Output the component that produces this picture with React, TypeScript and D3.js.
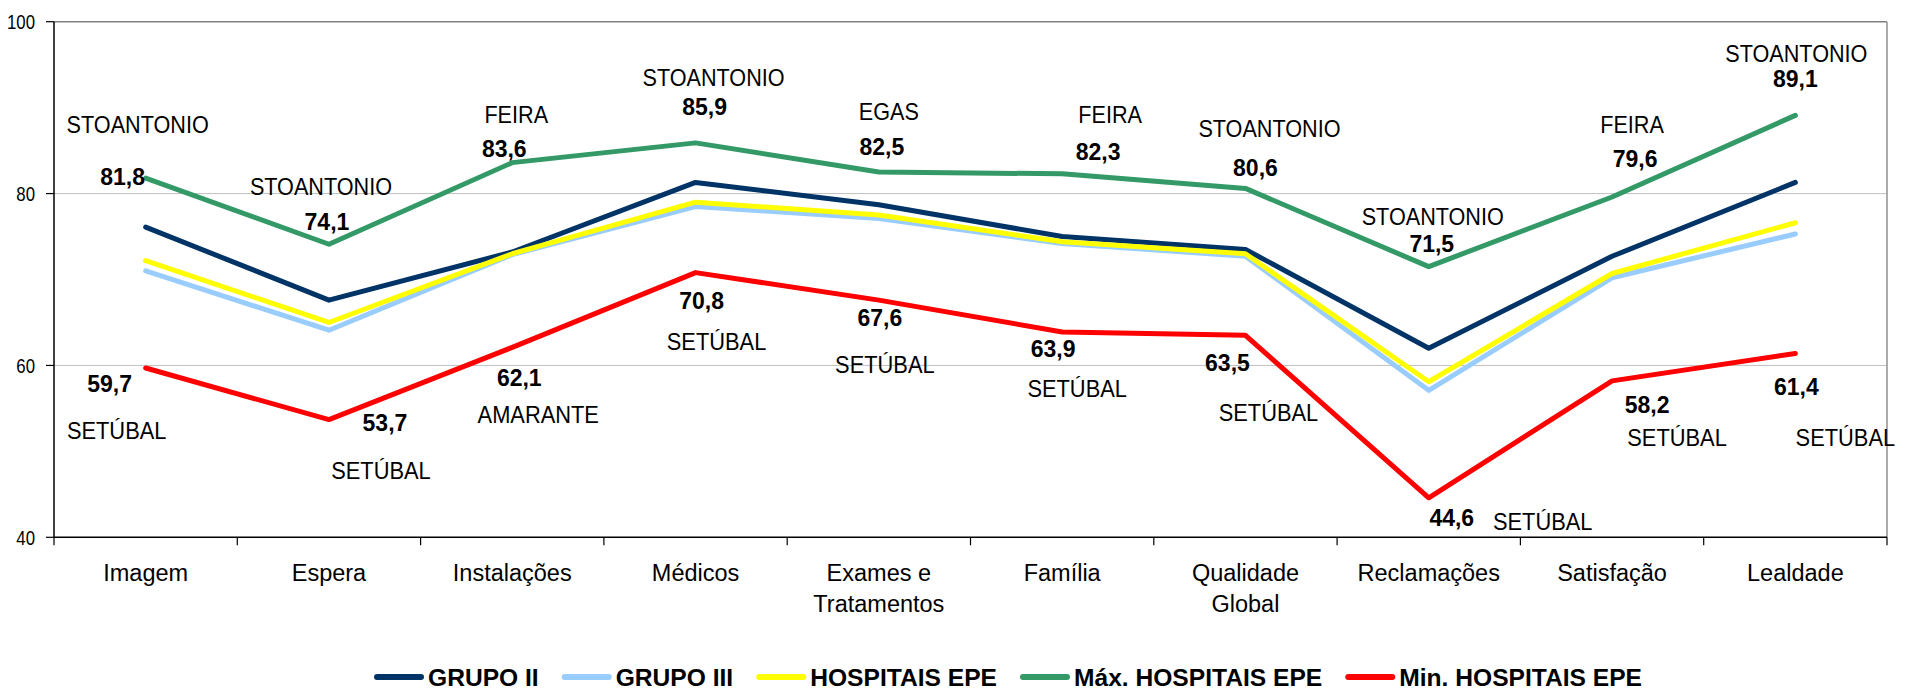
import * as d3 from "d3";

const W = 1905, H = 696;
const FONT = "'Liberation Sans', Arial, sans-serif";

const categories = ["Imagem", "Espera", "Instalações", "Médicos", "Exames e\nTratamentos", "Família", "Qualidade\nGlobal", "Reclamações", "Satisfação", "Lealdade"];

const grupoII = [76.1, 67.6, 73.2, 81.3, 78.7, 75.0, 73.5, 62.0, 72.7, 81.3];
const grupoIII = [71.0, 64.1, 72.9, 78.5, 77.1, 74.2, 72.7, 57.1, 70.2, 75.3];
const hospitaisEpe = [72.2, 65.0, 73.0, 79.0, 77.5, 74.4, 73.0, 58.1, 70.7, 76.6];
const maxEpe = [81.8, 74.1, 83.6, 85.9, 82.5, 82.3, 80.6, 71.5, 79.6, 89.1];
const minEpe = [59.7, 53.7, 62.1, 70.8, 67.6, 63.9, 63.5, 44.6, 58.2, 61.4];

const maxSites = ["STOANTONIO", "STOANTONIO", "FEIRA", "STOANTONIO", "EGAS", "FEIRA", "STOANTONIO", "STOANTONIO", "FEIRA", "STOANTONIO"];
const minSites = ["SETÚBAL", "SETÚBAL", "AMARANTE", "SETÚBAL", "SETÚBAL", "SETÚBAL", "SETÚBAL", "SETÚBAL", "SETÚBAL", "SETÚBAL"];

const yTicks = [40, 60, 80, 100];

const series = [
  { name: "GRUPO II", values: grupoII, color: "#003366" },
  { name: "GRUPO III", values: grupoIII, color: "#99ccff" },
  { name: "HOSPITAIS EPE", values: hospitaisEpe, color: "#ffff00" },
  { name: "Máx. HOSPITAIS EPE", values: maxEpe, color: "#339966" },
  { name: "Min. HOSPITAIS EPE", values: minEpe, color: "#ff0000" },
];

// label placement, offsets from the data point [dx, dy] (layout only)
const maxNameOff = [[-8, -45], [-8, -49], [4, -40], [18, -57], [10, -52], [48, -51], [24, -51], [4, -42], [20, -64], [1, -53]];
const maxValOff = [[-23, 7], [-2, -14], [-8, -6], [9, -28], [3, -17], [36, -14], [10, -12], [3, -15], [23, -30], [0, -28]];
const minValOff = [[-36, 24], [56, 11], [7, 39], [6, 36], [1, 26], [-9, 25], [-18, 36], [23, 28], [35, 32], [1, 42]];
const minNameOff = [[-29, 71], [52, 59], [26, 76], [21, 77], [6, 73], [15, 65], [23, 86], [114, 32], [65, 65], [50, 93]];

function T({ x, y, sx = 1, size, bold = false, anchor = "middle", children }: any) {
  return (
    <text transform={`translate(${x},${y}) scale(${sx},1)`} fontSize={size} fontWeight={bold ? 700 : 400}
      textAnchor={anchor} fontFamily={FONT} fill="#000">{children}</text>
  );
}

const fmt = (v: number) => d3.format(".1f")(v).replace(".", ",");

export default function App() {
  const left = 54, right = 1887, top = 21.7, bottom = 537.3;
  const x = d3.scaleBand<string>().domain(categories).range([left, right]);
  const cx = (i: number) => (x(categories[i]) as number) + x.bandwidth() / 2;
  const y = d3.scaleLinear().domain([40, 100]).range([bottom, top]);
  const line = d3.line<number>().x((_, i) => cx(i)).y((d) => y(d));

  // legend layout from measured text widths
  const ctx = document.createElement("canvas").getContext("2d")!;
  ctx.font = `bold 24.6px ${FONT}`;
  const sw = 50, gapSw = 4, gapItem = 23;
  const widths = series.map((s) => sw + gapSw + ctx.measureText(s.name).width);
  let lx = 374;
  const legendPos = widths.map((w) => { const p = lx; lx += w + gapItem; return p; });

  return (
    <svg width={W} height={H} style={{ position: "absolute", left: 0, top: 0, background: "#fff" }}>
      {/* grid + frame */}
      {yTicks.slice(1, 3).map((t) => (
        <line key={t} x1={left} x2={right} y1={y(t)} y2={y(t)} stroke="#c0c0c0" strokeWidth={1} />
      ))}
      <line x1={left} x2={right} y1={y(100)} y2={y(100)} stroke="#808080" strokeWidth={1.5} />
      <line x1={right} x2={right} y1={top} y2={bottom} stroke="#909090" strokeWidth={1.5} />
      <line x1={left} x2={left} y1={top} y2={bottom} stroke="#000" strokeWidth={1.5} />
      <line x1={left} x2={right} y1={bottom} y2={bottom} stroke="#000" strokeWidth={1.5} />
      {yTicks.map((t) => (
        <g key={t}>
          <line x1={left - 8} x2={left} y1={y(t)} y2={y(t)} stroke="#000" strokeWidth={1.2} />
          <T x={35} y={y(t) + 7.5} size={21} sx={0.8} anchor="end">{t}</T>
        </g>
      ))}
      {d3.range(categories.length + 1).map((i) => (
        <line key={i} x1={left + i * x.bandwidth()} x2={left + i * x.bandwidth()} y1={bottom} y2={bottom + 8} stroke="#000" strokeWidth={1.2} />
      ))}
      {categories.map((c, i) =>
        c.split("\n").map((ln, k) => (
          <T key={c + k} x={cx(i)} y={580.5 + k * 31} size={23.5}>{ln}</T>
        ))
      )}

      {/* series lines */}
      {series.map((s) => (
        <path key={s.name} d={line(s.values) as string} fill="none" stroke={s.color} strokeWidth={5}
          strokeLinecap="round" strokeLinejoin="round" />
      ))}

      {/* max / min labels */}
      {maxEpe.map((v, i) => (
        <g key={"mx" + i}>
          <T x={cx(i) + maxNameOff[i][0]} y={y(v) + maxNameOff[i][1]} size={23} sx={0.94}>{maxSites[i]}</T>
          <T x={cx(i) + maxValOff[i][0]} y={y(v) + maxValOff[i][1]} size={23} bold>{fmt(v)}</T>
        </g>
      ))}
      {minEpe.map((v, i) => (
        <g key={"mn" + i}>
          <T x={cx(i) + minNameOff[i][0]} y={y(v) + minNameOff[i][1]} size={23} sx={0.95}>{minSites[i]}</T>
          <T x={cx(i) + minValOff[i][0]} y={y(v) + minValOff[i][1]} size={23} bold>{fmt(v)}</T>
        </g>
      ))}

      {/* legend */}
      {series.map((s, i) => (
        <g key={"lg" + i}>
          <line x1={legendPos[i] + 3} x2={legendPos[i] + sw - 3} y1={677} y2={677} stroke={s.color} strokeWidth={6} strokeLinecap="round" />
          <T x={legendPos[i] + sw + gapSw} y={686} size={24.6} bold anchor="start">{s.name}</T>
        </g>
      ))}
    </svg>
  );
}
